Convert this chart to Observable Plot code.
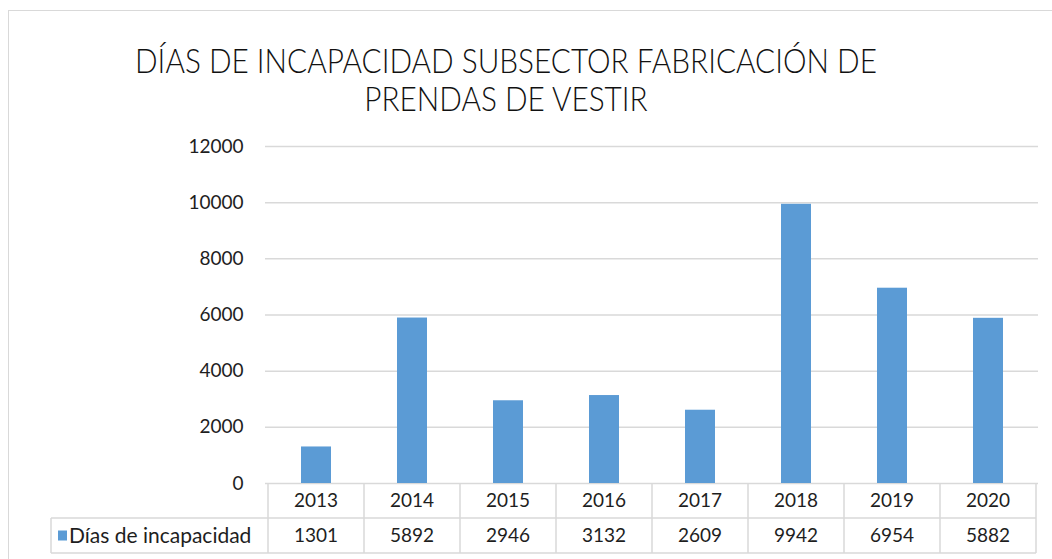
<!DOCTYPE html>
<html>
<head>
<meta charset="utf-8">
<script src="https://cdn.jsdelivr.net/npm/d3@7"></script>
<script src="https://cdn.jsdelivr.net/npm/@observablehq/plot@0.6"></script>
<style>
  html, body { margin: 0; padding: 0; background: #fff; }
  #wrap { position: relative; width: 1052px; height: 559px; overflow: hidden; background: #fff; }
  #frame { position: absolute; left: 8px; top: 10px; width: 1100px; height: 620px; border: 1.5px solid #d9d9d9; box-sizing: border-box; }
  #title { position: absolute; left: 0; width: 1012px; top: 41px; text-align: center; font-family: Lato, "Liberation Sans", sans-serif; font-weight: 300; font-size: 34px; line-height: 38px; color: #111; transform-origin: 506px 0; white-space: nowrap; }
  #chart { position: absolute; left: 0; top: 0; }
</style>
</head>
<body>
<div id="wrap">
  <div id="frame"></div>
  <div id="chart"></div>
  <div id="title"></div>
</div>
<script>
const titleLines = ["DÍAS DE INCAPACIDAD SUBSECTOR FABRICACIÓN DE", "PRENDAS DE VESTIR"];
const years = ["2013", "2014", "2015", "2016", "2017", "2018", "2019", "2020"];
const values = [1301, 5892, 2946, 3132, 2609, 9942, 6954, 5882];
const yTicks = [0, 2000, 4000, 6000, 8000, 10000, 12000];
const seriesName = "Días de incapacidad";
const barColor = "#5b9bd5";
const lineColor = "#d9d9d9";
const textColor = "#1e1e1e";
const fontFamily = "Lato, 'Open Sans', sans-serif";

// Title: two centred lines, condensed to the reference's line width
const titleEl = document.getElementById("title");
titleLines.forEach(line => {
  const d = document.createElement("div");
  const s = document.createElement("span");
  s.textContent = line;
  d.appendChild(s);
  titleEl.appendChild(d);
});
const firstSpan = titleEl.querySelector("span");
const titleWidth = 742;
titleEl.style.transform = `scaleX(${titleWidth / firstSpan.getBoundingClientRect().width})`;

const data = years.map((y, i) => ({year: y, value: values[i]}));

const plot = Plot.plot({
  width: 1052,
  height: 559,
  marginLeft: 265,
  marginRight: 14,
  marginTop: 146,
  marginBottom: 76,
  style: {fontFamily, fontSize: "19px", color: textColor, background: "transparent"},
  x: {domain: years, paddingInner: 0.69, paddingOuter: 0.345, axis: null},
  y: {domain: [0, 12000], ticks: yTicks, tickSize: 0, tickPadding: 22, tickFormat: d => String(d), label: null},
  marks: [
    Plot.ruleY(yTicks, {stroke: lineColor, strokeWidth: 1.5}),
    Plot.barY(data, {x: "year", y: "value", fill: barColor})
  ]
});

document.getElementById("chart").appendChild(plot);

// Data table drawn from the plot's own scales
const xs = plot.scale("x");
const ys = plot.scale("y");
const step = xs.step;
const gap = step - xs.bandwidth;
const y0 = ys.apply(0);
const rowH = 35;
const legendLeft = 51;
const cellLeft = years.map(yr => xs.apply(yr) - gap / 2);
const tableRight = cellLeft[cellLeft.length - 1] + step;

const svg = d3.select(plot);
const g = svg.append("g").attr("stroke", lineColor).attr("stroke-width", 1.5);
for (let i = 0; i <= years.length; i++) {
  const xv = i < years.length ? cellLeft[i] : tableRight;
  g.append("line").attr("x1", xv).attr("x2", xv).attr("y1", y0).attr("y2", y0 + 2 * rowH);
}
g.append("line").attr("x1", legendLeft).attr("x2", tableRight).attr("y1", y0 + rowH).attr("y2", y0 + rowH);
g.append("line").attr("x1", legendLeft).attr("x2", tableRight).attr("y1", y0 + 2 * rowH).attr("y2", y0 + 2 * rowH);
g.append("line").attr("x1", legendLeft).attr("x2", legendLeft).attr("y1", y0 + rowH).attr("y2", y0 + 2 * rowH);

const t = svg.append("g").attr("fill", textColor).attr("font-family", fontFamily).attr("font-size", "19px").attr("text-anchor", "middle");
years.forEach((yr, i) => {
  const cx = cellLeft[i] + step / 2;
  t.append("text").attr("x", cx).attr("y", y0 + rowH / 2).attr("dy", "0.35em").text(yr);
  t.append("text").attr("x", cx).attr("y", y0 + rowH * 1.5).attr("dy", "0.35em").text(String(values[i]));
});
svg.append("rect").attr("x", legendLeft + 7).attr("y", y0 + rowH * 1.5 - 5).attr("width", 9).attr("height", 10).attr("fill", barColor);
svg.append("text").attr("x", legendLeft + 18).attr("y", y0 + rowH * 1.5).attr("dy", "0.35em")
  .attr("text-anchor", "start")
  .attr("fill", textColor).attr("font-family", fontFamily).attr("font-size", "21px").text(seriesName);
</script>
</body>
</html>
